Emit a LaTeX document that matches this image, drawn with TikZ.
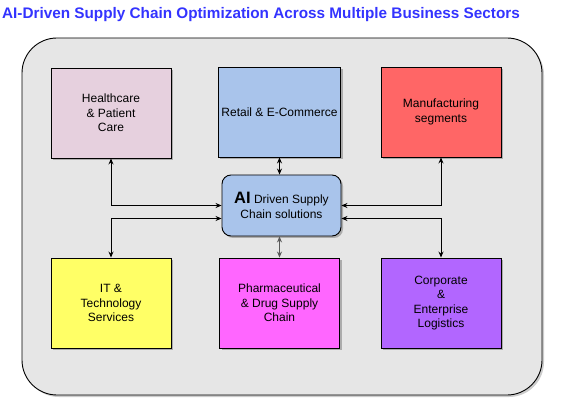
\documentclass[tikz,border=0pt]{standalone}
\usepackage{fontspec}
\setmainfont{Liberation Sans}
\usetikzlibrary{arrows.meta,shadows}
\definecolor{titleblue}{HTML}{3333FF}
\definecolor{panelgray}{HTML}{E6E6E6}
\definecolor{hcpink}{HTML}{E6D0DE}
\definecolor{aiblue}{HTML}{A9C4EB}
\definecolor{mfred}{HTML}{FF6666}
\definecolor{ityellow}{HTML}{FFFF66}
\definecolor{phmagenta}{HTML}{FF66FF}
\definecolor{copurple}{HTML}{B266FF}
\begin{document}
\begin{tikzpicture}[x=1pt,y=-1pt]
    \tikzstyle{sector}=[rectangle,draw=black,line width=0.9pt,minimum width=120pt,minimum height=90pt,align=center,font=\fontsize{12}{14.5}\selectfont,drop shadow={shadow xshift=2pt,shadow yshift=-2pt,fill=black,opacity=0.25}]
    \tikzstyle{link}=[line width=0.9pt,{Stealth[length=6pt,width=5pt]}-{Stealth[length=6pt,width=5pt]}]
    \useasboundingbox (0,0) rectangle (581,406);
    \node (title) at (261,15) [font=\fontsize{15.3}{17}\selectfont\bfseries,text=titleblue] {AI-Driven Supply Chain Optimization Across Multiple Business Sectors};
    \draw [fill=panelgray,line width=0.9pt,rounded corners=35pt,drop shadow={shadow xshift=2pt,shadow yshift=-2pt,fill=black,opacity=0.2}] (22,38) rectangle (542,395);
    \node (hc)[sector,fill=hcpink] at (111,113) {Healthcare\\\& Patient\\Care};
    \node (rt)[sector,fill=aiblue] at (279.5,112) {Retail \& E-Commerce};
    \node (mf)[sector,fill=mfred] at (441,112) {Manufacturing\\segments};
    \node (it)[sector,fill=ityellow] at (111,303) {IT \&\\Technology\\Services};
    \node (ph)[sector,fill=phmagenta] at (279.5,303) {Pharmaceutical\\\& Drug Supply\\Chain};
    \node (co)[sector,fill=copurple] at (441,303) {Corporate\\\&\\Enterprise\\Logistics};
    \node (ai)[sector,fill=aiblue,rounded corners=9pt,minimum width=119pt,minimum height=61pt] at (281.5,205.5) {{\fontsize{16.5}{18}\selectfont\bfseries AI} Driven Supply\\Chain solutions};
    \draw [link] (hc.south) |- (ai.west);
    \draw [link] (it.north) |- ([yshift=-13pt]ai.west);
    \draw [link] (mf.south) |- (ai.east);
    \draw [link] (co.north) |- ([yshift=-13pt]ai.east);
    \draw [link] (rt.south) -- (rt.south |- ai.north);
    \draw [link,draw=black!65,fill=black!80,line width=1.6pt] (ph.north |- ai.south) -- (ph.north);
\end{tikzpicture}
\end{document}
